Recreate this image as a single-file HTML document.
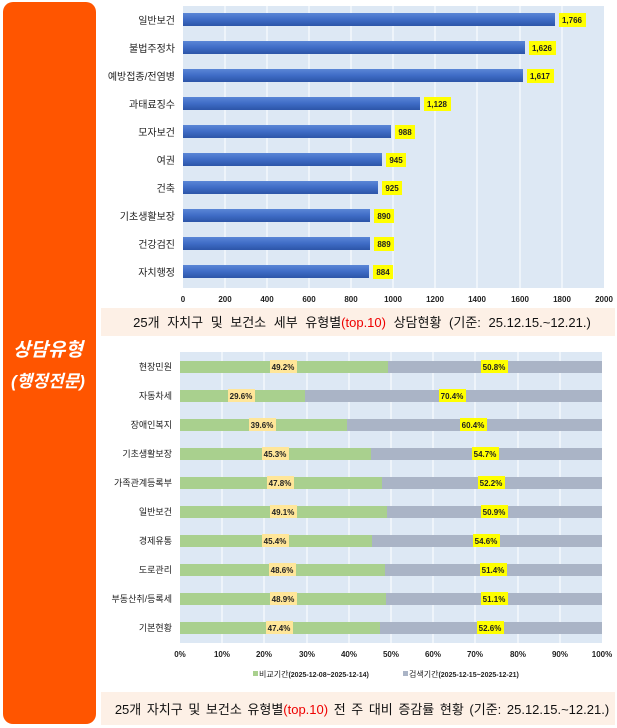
<!DOCTYPE html>
<html><head><meta charset="utf-8"><style>
body{margin:0;background:#fff;}
svg{display:block;font-family:"Liberation Sans","Noto Sans CJK KR",sans-serif;}
</style></head><body>
<svg width="617" height="728" viewBox="0 0 617 728" xmlns="http://www.w3.org/2000/svg">
<defs>
<linearGradient id="bg" x1="0" y1="0" x2="0" y2="1"><stop offset="0" stop-color="#5a86d6"/><stop offset="0.5" stop-color="#3f6cc6"/><stop offset="1" stop-color="#2c55a8"/></linearGradient>
</defs>
<rect x="3" y="2" width="93" height="722" rx="10" fill="#ff5500"/>
<text x="48" y="356" fill="#fff" font-size="19" font-weight="bold" font-style="italic" text-anchor="middle">상담유형</text>
<text x="48" y="387" fill="#fff" font-size="17" font-weight="bold" font-style="italic" text-anchor="middle">(행정전문)</text>

<!-- top chart -->
<rect x="183" y="6" width="421" height="282" fill="#dde8f4"/>
<g stroke="#fff" stroke-width="1">
<line x1="225" y1="6" x2="225" y2="288"/><line x1="267" y1="6" x2="267" y2="288"/><line x1="309" y1="6" x2="309" y2="288"/><line x1="351" y1="6" x2="351" y2="288"/><line x1="393" y1="6" x2="393" y2="288"/><line x1="435" y1="6" x2="435" y2="288"/><line x1="477" y1="6" x2="477" y2="288"/><line x1="520" y1="6" x2="520" y2="288"/><line x1="562" y1="6" x2="562" y2="288"/>
</g>
<g font-size="10" fill="#222" text-anchor="end">
<text x="175" y="24">일반보건</text><text x="175" y="52">불법주정차</text><text x="175" y="80">예방접종/전염병</text><text x="175" y="108">과태료징수</text><text x="175" y="136">모자보건</text><text x="175" y="164">여권</text><text x="175" y="192">건축</text><text x="175" y="220">기초생활보장</text><text x="175" y="248">건강검진</text><text x="175" y="276">자치행정</text>
</g>
<g fill="url(#bg)">
<rect x="183" y="13" width="372" height="13"/><rect x="183" y="41" width="342" height="13"/><rect x="183" y="69" width="340" height="13"/><rect x="183" y="97" width="237" height="13"/><rect x="183" y="125" width="208" height="13"/><rect x="183" y="153" width="199" height="13"/><rect x="183" y="181" width="195" height="13"/><rect x="183" y="209" width="187" height="13"/><rect x="183" y="237" width="187" height="13"/><rect x="183" y="265" width="186" height="13"/>
</g>
<g fill="#ffff00"><rect x="559" y="13" width="27" height="14"/><rect x="529" y="41" width="27" height="14"/><rect x="527" y="69" width="27" height="14"/><rect x="424" y="97" width="27" height="14"/><rect x="395" y="125" width="20" height="14"/><rect x="386" y="153" width="20" height="14"/><rect x="382" y="181" width="20" height="14"/><rect x="374" y="209" width="20" height="14"/><rect x="374" y="237" width="20" height="14"/><rect x="373" y="265" width="20" height="14"/></g>
<g font-size="8" font-weight="bold" fill="#222" text-anchor="middle">
<text x="572" y="23">1,766</text><text x="542" y="51">1,626</text><text x="540" y="79">1,617</text><text x="437" y="107">1,128</text><text x="405" y="135">988</text><text x="396" y="163">945</text><text x="392" y="191">925</text><text x="384" y="219">890</text><text x="384" y="247">889</text><text x="383" y="275">884</text>
</g>
<g font-size="8" font-weight="bold" fill="#222" text-anchor="middle">
<text x="183" y="302">0</text><text x="225" y="302">200</text><text x="267" y="302">400</text><text x="309" y="302">600</text><text x="351" y="302">800</text><text x="393" y="302">1000</text><text x="435" y="302">1200</text><text x="477" y="302">1400</text><text x="520" y="302">1600</text><text x="562" y="302">1800</text><text x="604" y="302">2000</text>
</g>
<rect x="101" y="308" width="514" height="28" fill="#fdf0e6"/>
<text x="362" y="327" font-size="13" text-anchor="middle" fill="#111" word-spacing="4">25개 자치구 및 보건소 세부 유형별<tspan fill="#e00">(top.10)</tspan> 상담현황  (기준: 25.12.15.~12.21.)</text>

<!-- bottom chart -->
<rect x="180" y="352" width="422" height="291" fill="#dde8f4"/>
<g stroke="#fff" stroke-width="1">
<line x1="222" y1="352" x2="222" y2="643"/><line x1="264" y1="352" x2="264" y2="643"/><line x1="307" y1="352" x2="307" y2="643"/><line x1="349" y1="352" x2="349" y2="643"/><line x1="391" y1="352" x2="391" y2="643"/><line x1="433" y1="352" x2="433" y2="643"/><line x1="475" y1="352" x2="475" y2="643"/><line x1="518" y1="352" x2="518" y2="643"/><line x1="560" y1="352" x2="560" y2="643"/>
</g>
<g font-size="9" fill="#222" text-anchor="end">
<text x="172" y="370">현장민원</text><text x="172" y="399">자동차세</text><text x="172" y="428">장애인복지</text><text x="172" y="457">기초생활보장</text><text x="172" y="486">가족관계등록부</text><text x="172" y="515">일반보건</text><text x="172" y="544">경제유통</text><text x="172" y="573">도로관리</text><text x="172" y="602">부동산취/등록세</text><text x="172" y="631">기본현황</text>
</g>
<g fill="#aab4c6">
<rect x="180" y="361" width="422" height="12"/><rect x="180" y="390" width="422" height="12"/><rect x="180" y="419" width="422" height="12"/><rect x="180" y="448" width="422" height="12"/><rect x="180" y="477" width="422" height="12"/><rect x="180" y="506" width="422" height="12"/><rect x="180" y="535" width="422" height="12"/><rect x="180" y="564" width="422" height="12"/><rect x="180" y="593" width="422" height="12"/><rect x="180" y="622" width="422" height="12"/>
</g>
<g fill="#a9d08e">
<rect x="180" y="361" width="208" height="12"/><rect x="180" y="390" width="125" height="12"/><rect x="180" y="419" width="167" height="12"/><rect x="180" y="448" width="191" height="12"/><rect x="180" y="477" width="202" height="12"/><rect x="180" y="506" width="207" height="12"/><rect x="180" y="535" width="192" height="12"/><rect x="180" y="564" width="205" height="12"/><rect x="180" y="593" width="206" height="12"/><rect x="180" y="622" width="200" height="12"/>
</g>
<g fill="#ffe699"><rect x="270" y="360" width="27" height="13"/><rect x="228" y="389" width="27" height="13"/><rect x="249" y="418" width="27" height="13"/><rect x="262" y="447" width="27" height="13"/><rect x="267" y="476" width="27" height="13"/><rect x="270" y="505" width="27" height="13"/><rect x="262" y="534" width="27" height="13"/><rect x="269" y="563" width="27" height="13"/><rect x="270" y="592" width="27" height="13"/><rect x="266" y="621" width="27" height="13"/></g>
<g fill="#ffff00"><rect x="481" y="360" width="27" height="13"/><rect x="439" y="389" width="27" height="13"/><rect x="460" y="418" width="27" height="13"/><rect x="472" y="447" width="27" height="13"/><rect x="478" y="476" width="27" height="13"/><rect x="481" y="505" width="27" height="13"/><rect x="473" y="534" width="27" height="13"/><rect x="480" y="563" width="27" height="13"/><rect x="481" y="592" width="27" height="13"/><rect x="477" y="621" width="27" height="13"/></g>
<g font-size="8" font-weight="bold" fill="#222" text-anchor="middle">
<text x="283" y="370">49.2%</text><text x="241" y="399">29.6%</text><text x="262" y="428">39.6%</text><text x="275" y="457">45.3%</text><text x="280" y="486">47.8%</text><text x="283" y="515">49.1%</text><text x="275" y="544">45.4%</text><text x="282" y="573">48.6%</text><text x="283" y="602">48.9%</text><text x="279" y="631">47.4%</text>
<text x="494" y="370">50.8%</text><text x="452" y="399">70.4%</text><text x="473" y="428">60.4%</text><text x="485" y="457">54.7%</text><text x="491" y="486">52.2%</text><text x="494" y="515">50.9%</text><text x="486" y="544">54.6%</text><text x="493" y="573">51.4%</text><text x="494" y="602">51.1%</text><text x="490" y="631">52.6%</text>
</g>
<g font-size="8" font-weight="bold" fill="#222" text-anchor="middle">
<text x="180" y="657">0%</text><text x="222" y="657">10%</text><text x="264" y="657">20%</text><text x="307" y="657">30%</text><text x="349" y="657">40%</text><text x="391" y="657">50%</text><text x="433" y="657">60%</text><text x="475" y="657">70%</text><text x="518" y="657">80%</text><text x="560" y="657">90%</text><text x="602" y="657">100%</text>
</g>
<rect x="253" y="671" width="5" height="5" fill="#a9d08e"/>
<text x="259" y="677" font-size="8" fill="#222">비교기간<tspan font-weight="bold" font-size="7">(2025-12-08~2025-12-14)</tspan></text>
<rect x="403" y="671" width="5" height="5" fill="#aab4c6"/>
<text x="409" y="677" font-size="8" fill="#222">검색기간<tspan font-weight="bold" font-size="7">(2025-12-15~2025-12-21)</tspan></text>
<rect x="101" y="692" width="514" height="33" fill="#fdf0e6"/>
<text x="362" y="714" font-size="13" text-anchor="middle" fill="#111" word-spacing="2">25개 자치구 및 보건소 유형별<tspan fill="#e00">(top.10)</tspan> 전 주 대비 증감률 현황 (기준: 25.12.15.~12.21.)</text>
</svg>
</body></html>
